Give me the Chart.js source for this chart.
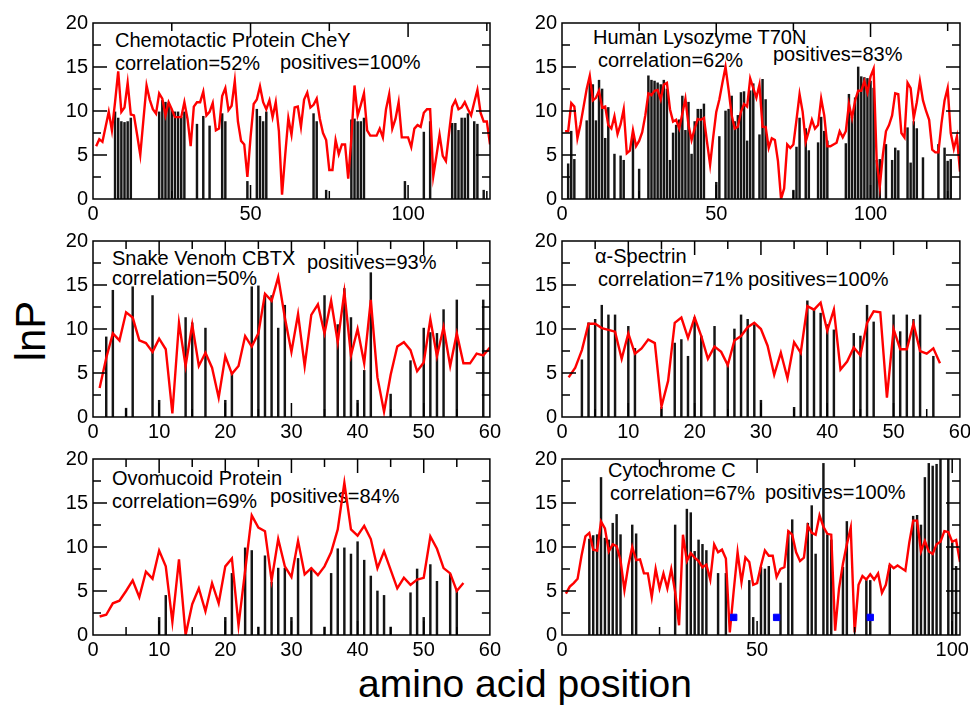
<!DOCTYPE html>
<html>
<head>
<meta charset="utf-8">
<script src="https://cdn.jsdelivr.net/npm/chart.js@4.4.1/dist/chart.umd.min.js"></script>
<style>
  body { margin: 0; background: #fff; width: 970px; height: 709px; position: relative; overflow: hidden;
         font-family: "Liberation Sans", Arial, sans-serif; }
  canvas { position: absolute; }
  .t { position: absolute; font-size: 20px; line-height: 24px; white-space: nowrap; color: #000; }
</style>
</head>
<body>

<div class="t" style="left:115px;top:28px">Chemotactic Protein CheY</div>
<div class="t" style="left:115px;top:51px">correlation=52%</div>
<div class="t" style="left:280px;top:50px">positives=100%</div>

<div class="t" style="left:593px;top:25px">Human Lysozyme T70N</div>
<div class="t" style="left:598px;top:48px">correlation=62%</div>
<div class="t" style="left:773px;top:42px">positives=83%</div>

<div class="t" style="left:112px;top:246px">Snake Venom CBTX</div>
<div class="t" style="left:112px;top:266px">correlation=50%</div>
<div class="t" style="left:307px;top:250px">positives=93%</div>

<div class="t" style="left:595px;top:244px">α-Spectrin</div>
<div class="t" style="left:598px;top:267px">correlation=71%</div>
<div class="t" style="left:748px;top:267px">positives=100%</div>

<div class="t" style="left:112px;top:466px">Ovomucoid Protein</div>
<div class="t" style="left:112px;top:489px">correlation=69%</div>
<div class="t" style="left:270px;top:484px">positives=84%</div>

<div class="t" style="left:608px;top:458px">Cytochrome C</div>
<div class="t" style="left:610px;top:481px">correlation=67%</div>
<div class="t" style="left:765px;top:480px">positives=100%</div>

<div style="position:absolute;left:0;top:0;width:62px;height:42px;line-height:42px;font-size:42px;text-align:center;
            transform:translate(0px,310px) rotate(-90deg);">lnP</div>
<div style="position:absolute;left:275px;top:664px;width:500px;text-align:center;font-size:39px;line-height:39px;">amino acid position</div>

<script>
// tick labels
const longTicks = [0, 50, 100];
const shortTicks = [0, 10, 20, 30, 40, 50, 60];
const yTicks = [0, 5, 10, 15, 20];

// Chemotactic protein CheY (positions 1..126)
const cheyLine = [6.0,6.8,6.5,8.2,9.9,7.8,11.0,14.5,9.9,10.4,13.2,9.6,9.5,7.3,5.0,9.0,12.9,11.3,10.2,9.7,
  12.0,11.4,9.5,11.0,10.2,9.3,9.3,9.3,11.0,9.1,6.0,10.5,11.0,11.0,12.2,9.5,9.9,10.9,7.8,8.0,
  11.7,12.6,10.1,10.6,13.4,8.8,6.6,6.2,2.5,7.0,10.8,11.3,12.8,11.0,10.2,11.2,9.3,11.0,7.7,0.5,
  5.0,9.2,7.3,10.4,10.5,8.2,11.3,12.1,10.4,10.7,11.4,9.1,7.5,6.7,3.3,3.3,6.7,5.1,6.2,6.2,
  2.3,6.9,12.9,9.5,10.7,12.0,7.8,7.2,7.2,7.2,8.0,7.0,10.2,11.9,8.0,9.1,11.0,7.0,7.0,7.0,
  5.9,8.0,8.4,8.2,9.8,10.2,10.2,2.6,4.9,7.3,4.9,4.3,7.5,10.5,11.2,10.2,10.4,11.0,10.2,9.5,
  11.0,12.4,9.8,8.8,8.8,6.2];
const cheyStickX = [7,8,9,10,11,12,21,22,23,24,25,26,27,28,29,33,35,37,41,42,49,52,53,54,55,70,71,74,
  82,83,84,85,86,99,105,107,114,115,116,117,118,119,121,122,124];
const cheyStickY = [9.9,9.2,8.8,8.7,8.8,9.2,9.9,11.2,11.0,10.8,10.2,9.9,9.9,9.3,9.9,8.5,9.4,8.3,9.7,8.8,2.0,
  10.2,9.4,8.8,9.9,9.7,8.8,1.0,9.0,9.1,8.8,8.8,9.2,2.0,7.6,8.8,8.6,8.6,7.8,9.2,9.2,9.7,8.8,8.5,1.0];

// Human lysozyme T70N (positions 1..129)
const lysoLine = [7.7,7.7,10.9,10.5,6.9,8.5,10.5,12.5,14.0,11.2,11.5,12.3,10.4,10.5,8.4,8.0,9.4,7.4,8.5,10.2,
  5.2,5.5,7.8,6.0,6.6,7.6,9.5,12.0,11.8,12.3,12.4,11.3,13.0,13.2,10.2,8.8,9.0,8.0,9.7,11.4,
  8.4,6.7,8.0,9.1,9.0,9.2,6.5,3.9,7.0,9.9,11.3,13.2,15.0,12.4,9.5,8.0,8.2,9.9,10.8,10.5,
  13.7,12.6,11.5,13.0,8.2,8.2,5.8,6.9,6.7,4.3,0.0,1.2,6.2,5.8,6.2,9.0,11.9,9.9,6.5,7.7,
  9.0,8.0,8.4,11.4,9.5,6.0,6.0,6.2,6.4,7.7,7.0,7.7,10.8,9.2,11.2,12.3,12.3,13.4,12.1,13.9,
  14.8,4.3,1.4,5.0,7.7,8.4,9.5,12.0,11.9,7.5,7.0,13.2,12.6,9.2,11.0,13.4,11.2,10.0,9.0,5.6,
  5.3,5.3,8.6,11.2,12.6,7.5,5.7,7.1,3.1];
const lysoStickX = [2,3,4,8,9,10,11,12,13,14,15,17,19,20,23,25,28,29,30,31,32,33,34,35,36,37,38,39,40,41,42,
  43,44,45,46,50,51,53,54,55,56,57,58,59,60,61,62,64,65,66,75,76,77,79,80,83,84,85,86,92,93,94,95,96,97,
  98,99,100,101,102,103,105,107,108,109,112,113,114,115,117,122,124,125,126];
const lysoStickY = [4.0,7.7,4.5,8.9,13.4,13.0,8.9,13.5,12.5,6.9,10.4,5.1,4.9,4.4,7.0,3.4,14.0,13.5,13.4,13.2,
  13.0,13.5,12.5,4.4,7.5,8.4,9.0,11.7,7.8,11.0,5.1,8.8,10.2,10.2,10.8,1.9,7.1,10.0,10.2,11.7,8.8,9.5,
  12.1,12.2,6.6,12.3,13.1,7.3,13.6,11.3,1.0,5.9,9.2,8.0,5.5,6.4,9.3,7.7,6.6,6.3,11.9,9.3,11.5,15.0,
  13.9,13.8,13.7,13.4,12.6,4.4,4.5,6.2,4.4,5.8,5.5,8.1,4.1,8.8,8.0,4.7,6.2,5.8,4.3,4.5];

// Snake venom CBTX (positions 1..60)
const cbtxLine = [3.3,6.7,9.5,8.7,11.9,11.3,8.7,8.4,7.4,8.9,7.7,0.4,10.7,5.8,10.5,5.8,7.3,5.6,2.2,6.9,
  4.9,5.8,9.2,8.0,9.5,14.0,13.2,15.9,11.3,7.4,11.7,5.8,11.6,12.8,9.5,13.2,8.5,14.2,7.0,10.0,
  6.1,13.3,4.5,0.6,4.8,8.0,8.5,7.6,5.2,6.2,11.1,6.9,10.2,5.8,9.5,6.1,6.1,7.2,7.0,7.9];
const cbtxStickX = [2,3,5,6,9,10,14,15,17,20,21,24,25,26,27,28,29,35,37,38,39,40,41,42,45,48,50,51,52,53,55,59];
const cbtxStickY = [9.1,14.4,1.0,14.8,13.8,1.9,11.3,10.7,10.1,1.9,5.0,14.8,14.9,13.8,13.8,10.1,12.7,13.8,10.5,
  14.6,11.3,1.9,5.3,16.4,2.6,6.4,10.1,9.6,9.5,12.2,13.3,13.3];

// alpha-Spectrin (positions 1..57)
const spectrinLine = [4.5,5.6,7.6,10.6,10.6,10.1,9.9,9.7,6.6,9.5,7.2,7.8,8.8,8.4,1.2,4.1,10.7,11.3,9.0,11.3,
  9.2,6.6,8.0,7.4,5.9,8.7,9.2,10.2,10.7,10.0,8.1,4.8,7.3,4.4,8.5,7.3,12.6,12.2,13.0,9.8,
  12.2,5.4,6.3,7.9,7.0,10.7,12.0,11.9,2.2,10.0,7.7,7.7,10.6,7.5,7.2,7.8,6.1];
const spectrinStickX = [3,4,5,6,7,8,10,11,15,17,18,19,20,21,23,25,26,27,28,29,30,35,36,37,38,39,40,41,
  44,45,46,47,50,51,52,53,54,56];
const spectrinStickY = [6.5,10.7,11.1,12.7,11.6,11.6,10.3,7.8,1.1,8.4,8.8,6.9,11.3,9.2,10.3,6.2,10.0,11.6,11.1,
  10.5,1.9,1.1,7.6,13.2,12.3,11.8,10.5,9.9,9.5,9.2,12.7,10.8,11.6,9.7,11.6,11.1,11.6,6.9];

// Ovomucoid protein (positions 1..56)
const ovoLine = [2.1,2.3,3.6,3.9,5.0,6.2,4.3,7.2,6.4,9.6,7.8,1.5,8.6,0.0,3.5,5.3,2.7,5.9,3.6,7.8,
  8.7,1.1,7.3,13.6,12.2,11.8,6.2,10.9,7.8,6.6,10.7,6.9,7.6,6.8,7.8,9.4,12.0,17.3,12.0,11.3,
  12.4,10.9,7.6,9.5,7.4,5.3,6.5,5.7,6.3,6.5,11.2,9.8,7.6,7.0,5.0,5.9];
const ovoStickX = [10,11,20,21,23,24,25,26,27,28,29,30,31,33,35,36,37,38,39,40,41,42,43,44,45,48,49,50,51,52,54,55];
const ovoStickY = [2.0,4.5,2.0,7.0,9.9,9.6,0.9,9.0,6.0,7.6,7.6,2.0,8.7,7.6,0.9,7.0,9.8,9.9,9.2,10.6,8.5,6.7,
  5.0,4.5,0.9,4.8,7.5,2.0,8.0,6.1,6.9,5.2];

// Cytochrome C (positions 1..102)
const cytLine = [4.7,5.5,5.9,6.4,9.0,11.2,11.6,9.7,9.6,12.9,12.1,9.5,10.3,10.1,8.5,5.1,7.9,10.0,8.5,8.6,
  7.0,7.0,4.3,7.5,5.3,7.0,5.3,7.5,4.9,1.1,11.4,8.4,9.3,8.8,8.4,7.7,8.0,6.3,10.3,9.4,
  9.7,8.7,0.3,5.0,9.4,6.0,8.8,8.3,5.7,5.9,7.9,9.6,9.0,9.0,6.6,7.5,7.7,11.8,11.4,9.4,
  8.4,8.8,12.4,11.6,11.4,13.6,12.3,11.5,11.4,0.5,5.3,8.1,10.3,12.2,0.3,5.7,6.7,6.3,6.9,6.3,
  7.0,4.8,5.7,8.0,7.6,7.9,7.6,7.3,10.5,13.0,13.0,9.5,10.7,9.5,9.2,10.3,10.6,11.8,11.7,10.6,
  10.8,8.3];
const cytStickX = [7,8,9,10,11,12,13,14,15,18,19,29,32,33,34,35,36,37,40,42,48,49,51,52,53,56,58,59,
  63,64,65,67,68,69,72,73,78,79,84,90,91,92,93,94,95,96,97,99,100,101];
const cytStickY = [10.9,11.3,11.4,17.9,11.0,10.8,12.7,13.7,11.4,12.5,11.5,12.5,14.3,13.9,9.5,10.8,10.3,9.6,
  7.0,7.0,6.2,2.0,7.7,7.5,7.8,5.9,11.8,13.1,12.7,14.7,9.2,19.5,11.4,10.8,7.7,12.9,6.2,6.2,7.9,
  13.5,13.6,12.5,17.9,19.5,19.2,19.4,20,20,10.5,7.8];
const cytMarkX = [44, 55, 79];
const cytMarkY = [2, 2, 2];

Chart.defaults.font.family = "'Liberation Sans', Arial, sans-serif";
Chart.defaults.color = '#000';

// box frame plus inward ticks on all four sides
const frameTicks = {
  id: 'frameTicks',
  afterDraw(chart, args, o) {
    const { ctx, chartArea: a, scales: { x, y } } = chart;
    ctx.save();
    ctx.strokeStyle = '#000';
    ctx.lineWidth = 1.5;
    ctx.strokeRect(a.left, a.top, a.right - a.left, a.bottom - a.top);
    ctx.beginPath();
    for (let v = o.xMinor; v < x.max; v += o.xMinor) {
      const px = x.getPixelForValue(v);
      const len = (v % o.xMajor === 0) ? 14 : 8;
      ctx.moveTo(px, a.bottom); ctx.lineTo(px, a.bottom - len);
      ctx.moveTo(px, a.top); ctx.lineTo(px, a.top + len);
    }
    for (let v = 2.5; v < 20; v += 2.5) {
      const py = y.getPixelForValue(v);
      const len = (v % 5 === 0) ? 14 : 8;
      ctx.moveTo(a.left, py); ctx.lineTo(a.left + len, py);
      ctx.moveTo(a.right, py); ctx.lineTo(a.right - len, py);
    }
    ctx.stroke();
    ctx.restore();
  }
};

function makePanel(p) {
  const cv = document.createElement('canvas');
  const W = (p.R - p.L) + 64, H = (p.B - p.T) + 42;
  cv.width = W; cv.height = H;
  cv.style.left = (p.L - 50) + 'px';
  cv.style.top = (p.T - 12) + 'px';
  cv.style.width = W + 'px';
  cv.style.height = H + 'px';
  document.body.appendChild(cv);

  const datasets = [
    { type: 'line', data: p.line.map((v, i) => ({ x: i + 1, y: v })),
      borderColor: '#ff0000', borderWidth: 2.4, pointRadius: 0, tension: 0, fill: false, order: 1 },
    { type: 'bar', data: p.sx.map((x, i) => ({ x: x, y: p.sy[i] })),
      backgroundColor: '#151515', barThickness: 1.8, order: 2 }
  ];
  if (p.mx) {
    datasets.push({ type: 'line', data: p.mx.map((x, i) => ({ x: x, y: p.my[i] })), showLine: false,
      pointStyle: 'rect', pointRadius: 4.5, backgroundColor: '#0000ff', borderColor: '#0000ff', order: 0 });
  }

  new Chart(cv, {
    type: 'line',
    data: { datasets },
    options: {
      responsive: false,
      animation: false,
      devicePixelRatio: 1,
      layout: { padding: { left: 0, top: 12, right: 14, bottom: 0 } },
      plugins: {
        legend: { display: false },
        tooltip: { enabled: false },
        frameTicks: { xMajor: p.xMajor, xMinor: p.xMinor }
      },
      scales: {
        x: {
          type: 'linear', min: 0, max: p.xMax, offset: false,
          grid: { display: false, drawTicks: false }, border: { display: false },
          ticks: { font: { size: 20 }, padding: 3, maxRotation: 0, autoSkip: false },
          afterBuildTicks(s) { s.ticks = p.xTicks.map(v => ({ value: v })); },
          afterFit(s) { s.height = 30; }
        },
        y: {
          min: 0, max: 20,
          grid: { display: false, drawTicks: false }, border: { display: false },
          ticks: { font: { size: 20 }, padding: 5 },
          afterBuildTicks(s) { s.ticks = yTicks.map(v => ({ value: v })); },
          afterFit(s) { s.width = 50; }
        }
      }
    },
    plugins: [frameTicks]
  });
}

makePanel({ L: 93, R: 490, T: 18, B: 199, xMax: 126, xMajor: 50, xMinor: 25, xTicks: longTicks,
            line: cheyLine, sx: cheyStickX, sy: cheyStickY });
makePanel({ L: 562, R: 960, T: 18, B: 199, xMax: 129, xMajor: 50, xMinor: 25, xTicks: longTicks,
            line: lysoLine, sx: lysoStickX, sy: lysoStickY });
makePanel({ L: 93, R: 490, T: 236, B: 417, xMax: 60, xMajor: 10, xMinor: 5, xTicks: shortTicks,
            line: cbtxLine, sx: cbtxStickX, sy: cbtxStickY });
makePanel({ L: 562, R: 960, T: 236, B: 417, xMax: 60, xMajor: 10, xMinor: 5, xTicks: shortTicks,
            line: spectrinLine, sx: spectrinStickX, sy: spectrinStickY });
makePanel({ L: 93, R: 490, T: 454, B: 635, xMax: 60, xMajor: 10, xMinor: 5, xTicks: shortTicks,
            line: ovoLine, sx: ovoStickX, sy: ovoStickY });
makePanel({ L: 562, R: 960, T: 454, B: 635, xMax: 102, xMajor: 50, xMinor: 25, xTicks: longTicks,
            line: cytLine, sx: cytStickX, sy: cytStickY, mx: cytMarkX, my: cytMarkY });
</script>
</body>
</html>
